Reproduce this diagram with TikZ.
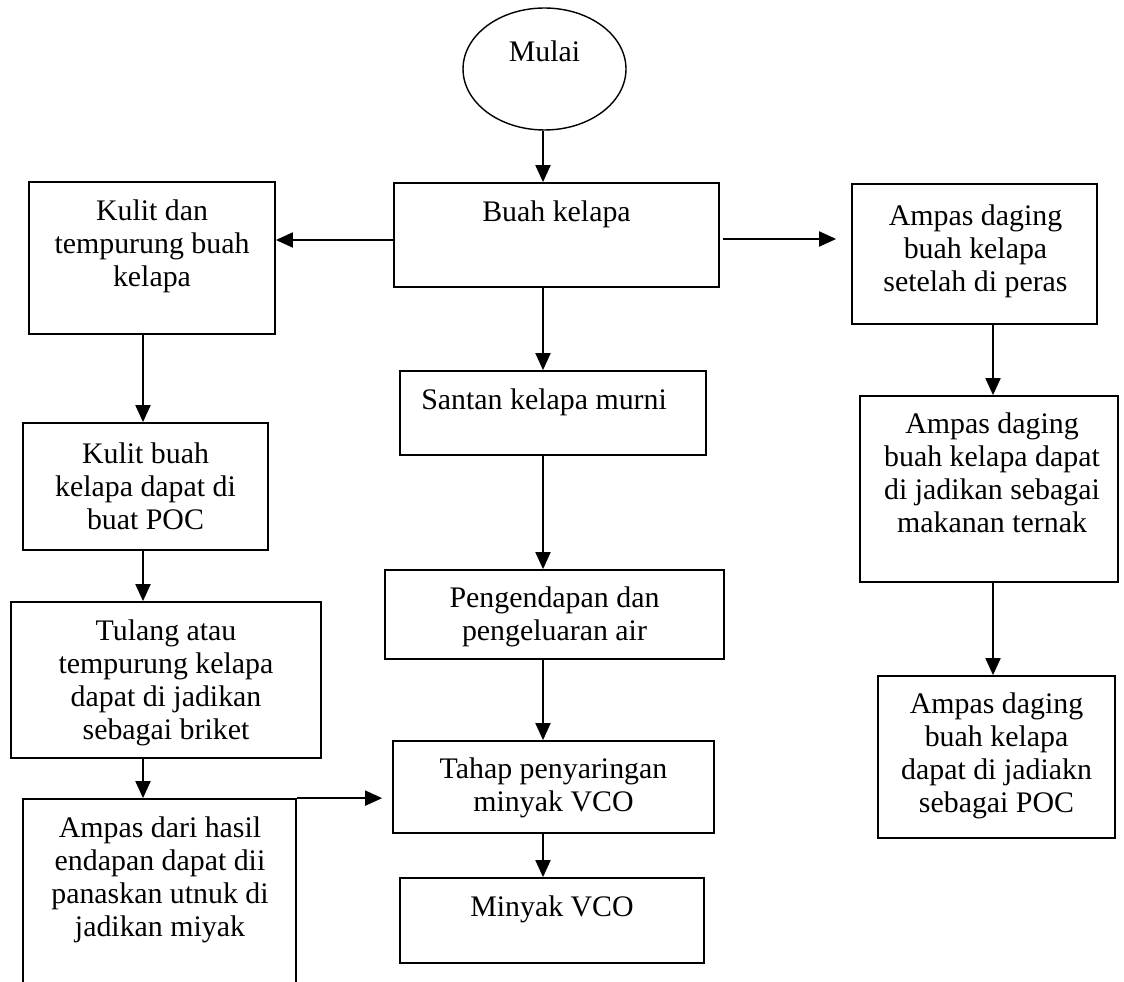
\documentclass[tikz,border=0pt]{standalone}
\usepackage{fontspec}
\setmainfont{Liberation Serif}
\usetikzlibrary{arrows.meta,shapes.geometric,fit}
\begin{document}
\begin{tikzpicture}[x=0.02cm,y=-0.02cm,
  box/.style={draw,line width=1pt,inner sep=0pt,fit={#1}},
  txt/.style={align=center,inner sep=0pt,anchor=north,font=\fontsize{17}{18.8}\selectfont},
  one/.style={inner sep=0pt,font=\fontsize{17}{18.8}\selectfont},
  arr/.style={line width=1.1pt,-{Triangle[length=0.34cm,width=0.3cm]}}]
\useasboundingbox (0,0) rectangle (1124,982);
% shapes
\node[draw,ellipse,line width=0.8pt,minimum width=3.26cm,minimum height=2.44cm,inner sep=0pt] (mulai) at (544.5,69) {};
\node[box={(394,183) (719,287)}] (buah) {};
\node[box={(29,182) (275,334)}] (L1) {};
\node[box={(23,423) (268,550)}] (L2) {};
\node[box={(11,602) (321,758)}] (L3) {};
\begin{scope}
\clip (0,0) rectangle (1124,982);
\node[box={(23,799) (296,1010)}] (L4) {};
\end{scope}
\node[box={(400,371) (706,455)}] (santan) {};
\node[box={(385,570) (724,659)}] (peng) {};
\node[box={(393,741) (714,833)}] (tahap) {};
\node[box={(400,878) (704,963)}] (minyak) {};
\node[box={(852,184) (1097,324)}] (R1) {};
\node[box={(860,396) (1118,582)}] (R2) {};
\node[box={(878,676) (1115,838)}] (R3) {};
% texts
\node[one,anchor=base] (tmulai) at (544.5,62) {Mulai};
\node[one,anchor=base] (tbuah) at (556.5,222) {Buah kelapa};
\node[one,anchor=base west] (tsantan) at (421,410) {Santan kelapa murni};
\node[one,anchor=base] (tminyak) at (552,916) {Minyak VCO};
\node[txt] (tL1) at (152,196.8) {\strut Kulit dan\\tempurung buah\\kelapa};
\node[txt] (tL2) at (145.5,439.8) {\strut Kulit buah\\kelapa dapat di\\buat POC};
\node[txt] (tL3) at (166,616.8) {\strut Tulang atau\\tempurung kelapa\\dapat di jadikan\\sebagai briket};
\node[txt] (tL4) at (160,813.8) {\strut Ampas dari hasil\\endapan dapat dii\\panaskan utnuk di\\jadikan miyak};
\node[txt] (tpeng) at (554.5,583.8) {\strut Pengendapan dan\\pengeluaran air};
\node[txt] (ttahap) at (553.5,754.8) {\strut Tahap penyaringan\\minyak VCO};
\node[txt] (tR1) at (975.5,201.8) {\strut Ampas daging\\buah kelapa\\setelah di peras};
\node[txt] (tR2) at (992,409.8) {\strut Ampas daging\\buah kelapa dapat\\di jadikan sebagai\\makanan ternak};
\node[txt] (tR3) at (996.5,689.8) {\strut Ampas daging\\buah kelapa\\dapat di jadiakn\\sebagai POC};
% coordinates for connector lines
\coordinate (cx) at (543,0);
\coordinate (lx) at (143,0);
\coordinate (rx) at (993,0);
\coordinate (ly) at (0,240);
\coordinate (ry) at (0,239);
% connectors
\draw[arr] (mulai.south -| cx) -- (buah.north -| cx);
\draw[arr] (buah.south -| cx) -- (santan.north -| cx);
\draw[arr] (santan.south -| cx) -- (peng.north -| cx);
\draw[arr] (peng.south -| cx) -- (tahap.north -| cx);
\draw[arr] (tahap.south -| cx) -- (minyak.north -| cx);
\draw[arr] (buah.west |- ly) -- (L1.east |- ly);
\draw[arr,shorten <=0.06cm,shorten >=0.3cm] (buah.east |- ry) -- (R1.west |- ry);
\draw[arr] (L1.south -| lx) -- (L2.north -| lx);
\draw[arr] (L2.south -| lx) -- (L3.north -| lx);
\draw[arr] (L3.south -| lx) -- (L4.north -| lx);
\draw[arr,shorten >=0.2cm] (L4.north east) -- (tahap.west |- L4.north east);
\draw[arr] (R1.south -| rx) -- (R2.north -| rx);
\draw[arr] (R2.south -| rx) -- (R3.north -| rx);
\end{tikzpicture}
\end{document}
